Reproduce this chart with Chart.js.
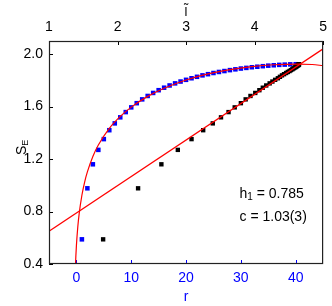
<!DOCTYPE html>
<html>
<head>
<meta charset="utf-8">
<script src="https://cdn.jsdelivr.net/npm/chart.js@4"></script>
<style>
  html, body { margin: 0; padding: 0; background: #fff; }
  canvas { display: block; }
</style>
</head>
<body>
<canvas id="seChart" width="332" height="306"></canvas>
<script>
// subsystem size r and entanglement entropy (blue squares)
const rValues = [1, 2, 3, 4, 5, 6, 7, 8, 9, 10, 11, 12, 13, 14, 15, 16, 17, 18, 19, 20,
    21, 22, 23, 24, 25, 26, 27, 28, 29, 30, 31, 32, 33, 34, 35, 36, 37, 38, 39, 40];
const seValues = [0.588, 0.977, 1.160, 1.270, 1.352, 1.420, 1.472, 1.518, 1.558, 1.594,
    1.626, 1.655, 1.681, 1.704, 1.725, 1.744, 1.761, 1.777, 1.791, 1.804,
    1.816, 1.827, 1.838, 1.847, 1.856, 1.864, 1.871, 1.878, 1.884, 1.890,
    1.895, 1.900, 1.904, 1.908, 1.912, 1.915, 1.918, 1.920, 1.922, 1.923];

// same entropies against the chord variable l~ (black squares, top axis)
const lTildeValues = [1.79, 2.30, 2.64, 2.88, 3.08, 3.25, 3.39, 3.51, 3.62, 3.71,
    3.80, 3.87, 3.94, 4.01, 4.07, 4.12, 4.17, 4.22, 4.26, 4.30,
    4.34, 4.37, 4.40, 4.43, 4.46, 4.485, 4.51, 4.53, 4.55, 4.565,
    4.58, 4.595, 4.605, 4.615, 4.625, 4.635, 4.64, 4.645, 4.647, 4.648];

// fitted curve S_E(r) (red)
const fitCurveR = [-0.2, -0.1, 0, 0.25, 0.5, 1, 1.5, 2, 3, 4, 6, 8, 10, 13, 16, 20, 24, 28, 32, 36, 40.5, 43, 45];
const fitCurveS = [0.361, 0.462, 0.540, 0.682, 0.782, 0.924, 1.025, 1.102, 1.220, 1.307, 1.434, 1.525,
    1.596, 1.678, 1.740, 1.803, 1.849, 1.882, 1.905, 1.919, 1.924, 1.921, 1.912];

// fitted straight line S_E(l~) (red)
const fitLineL = [1, 5];
const fitLineS = [0.649, 2.04];

const rTicks = [0, 10, 20, 30, 40];
const lTicks = [1, 2, 3, 4, 5];
const seTicks = [0.4, 0.8, 1.2, 1.6, 2.0];

const FONT = "'Liberation Sans', Arial, Helvetica, sans-serif";
const BLUE = '#0000ff';
const RED = '#ff0000';

const toPoints = (xs, ys) => xs.map((x, i) => ({ x, y: ys[i] }));
const setTicks = (list) => (scale) => { scale.ticks = list.map(v => ({ value: v })); };

// inward tick marks go under the data, frame and text on top
const decorations = {
    id: 'decorations',
    beforeDatasetsDraw(chart) {
        const { ctx, chartArea: a, scales } = chart;
        ctx.save();
        ctx.lineWidth = 1;

        ctx.strokeStyle = BLUE;
        ctx.beginPath();
        rTicks.forEach(v => {
            const px = Math.round(scales.x.getPixelForValue(v)) + 0.5;
            ctx.moveTo(px, a.bottom);
            ctx.lineTo(px, a.bottom - 4);
        });
        ctx.stroke();

        ctx.strokeStyle = '#000';
        ctx.beginPath();
        lTicks.forEach(v => {
            const px = Math.round(scales.x2.getPixelForValue(v)) + 0.5;
            ctx.moveTo(px, a.top);
            ctx.lineTo(px, a.top + 4);
        });
        seTicks.forEach(v => {
            const py = Math.round(scales.y.getPixelForValue(v)) + 0.5;
            ctx.moveTo(a.left, py);
            ctx.lineTo(a.left + 4, py);
        });
        ctx.stroke();
        ctx.restore();
    },
    afterDraw(chart) {
        const { ctx, chartArea: a } = chart;
        ctx.save();

        ctx.strokeStyle = '#222';
        ctx.lineWidth = 1.2;
        ctx.strokeRect(a.left + 0.5, a.top + 0.5, a.right - a.left - 1, a.bottom - a.top - 1);

        ctx.fillStyle = '#000';
        ctx.textBaseline = 'alphabetic';
        ctx.textAlign = 'left';

        // y title S_E
        ctx.save();
        ctx.translate(25.5, 155);
        ctx.rotate(-Math.PI / 2);
        ctx.font = '14px ' + FONT;
        ctx.fillText('S', 0, 0);
        const sw = ctx.measureText('S').width;
        ctx.font = '9px ' + FONT;
        ctx.fillText('E', sw, 2.5);
        ctx.restore();

        // top title l~
        ctx.font = '13px ' + FONT;
        ctx.textAlign = 'center';
        ctx.fillText('l\u0303', (a.left + a.right) / 2, 15.5);

        // bottom title r
        ctx.fillStyle = BLUE;
        ctx.font = '14px ' + FONT;
        ctx.fillText('r', (a.left + a.right) / 2, 301);

        // fit results
        ctx.fillStyle = '#000';
        ctx.textAlign = 'left';
        let x = 239.5;
        ctx.font = '14px ' + FONT;
        ctx.fillText('h', x, 197.5);
        x += ctx.measureText('h').width;
        ctx.font = '10px ' + FONT;
        ctx.fillText('1', x, 200);
        x += ctx.measureText('1').width;
        ctx.font = '14px ' + FONT;
        ctx.fillText(' = 0.785', x, 197.5);
        ctx.fillText('c = 1.03(3)', 239.5, 221);

        ctx.restore();
    }
};

new Chart(document.getElementById('seChart'), {
    type: 'scatter',
    data: {
        datasets: [
            {
                label: 'fit line',
                xAxisID: 'x2',
                data: toPoints(fitLineL, fitLineS),
                showLine: true,
                borderColor: RED,
                borderWidth: 1.2,
                pointRadius: 0
            },
            {
                label: 'fit curve',
                data: toPoints(fitCurveR, fitCurveS),
                showLine: true,
                cubicInterpolationMode: 'monotone',
                borderColor: RED,
                borderWidth: 1.2,
                pointRadius: 0
            },
            {
                label: 'S_E vs l~',
                xAxisID: 'x2',
                data: toPoints(lTildeValues, seValues),
                pointStyle: 'rect',
                pointRadius: 3.1,
                borderWidth: 0,
                backgroundColor: '#000'
            },
            {
                label: 'S_E vs r',
                data: toPoints(rValues, seValues),
                pointStyle: 'rect',
                pointRadius: 3.2,
                borderWidth: 0,
                backgroundColor: BLUE
            }
        ]
    },
    options: {
        responsive: false,
        animation: false,
        layout: { padding: { left: 0, right: 6, top: 0, bottom: 0 } },
        plugins: { legend: { display: false }, tooltip: { enabled: false } },
        scales: {
            x: {
                type: 'linear',
                position: 'bottom',
                min: -5,
                max: 45,
                afterBuildTicks: setTicks(rTicks),
                afterFit: (s) => { s.height = 42; },
                grid: { drawOnChartArea: false, drawTicks: false },
                border: { display: false },
                ticks: { color: BLUE, font: { family: FONT, size: 14 }, padding: 6, maxRotation: 0, autoSkip: false }
            },
            x2: {
                type: 'linear',
                position: 'top',
                min: 1,
                max: 5,
                afterBuildTicks: setTicks(lTicks),
                afterFit: (s) => { s.height = 41; },
                grid: { drawOnChartArea: false, drawTicks: false },
                border: { display: false },
                ticks: { color: '#000', font: { family: FONT, size: 14 }, padding: 5, maxRotation: 0, autoSkip: false }
            },
            y: {
                type: 'linear',
                min: 0.4,
                max: 2.1,
                afterBuildTicks: setTicks(seTicks),
                afterFit: (s) => { s.width = 49; },
                grid: { drawOnChartArea: false, drawTicks: false },
                border: { display: false },
                ticks: {
                    color: '#000',
                    font: { family: FONT, size: 14 },
                    padding: 6,
                    autoSkip: false,
                    callback: (v) => Number(v).toFixed(1)
                }
            }
        }
    },
    plugins: [decorations]
});
</script>
</body>
</html>
